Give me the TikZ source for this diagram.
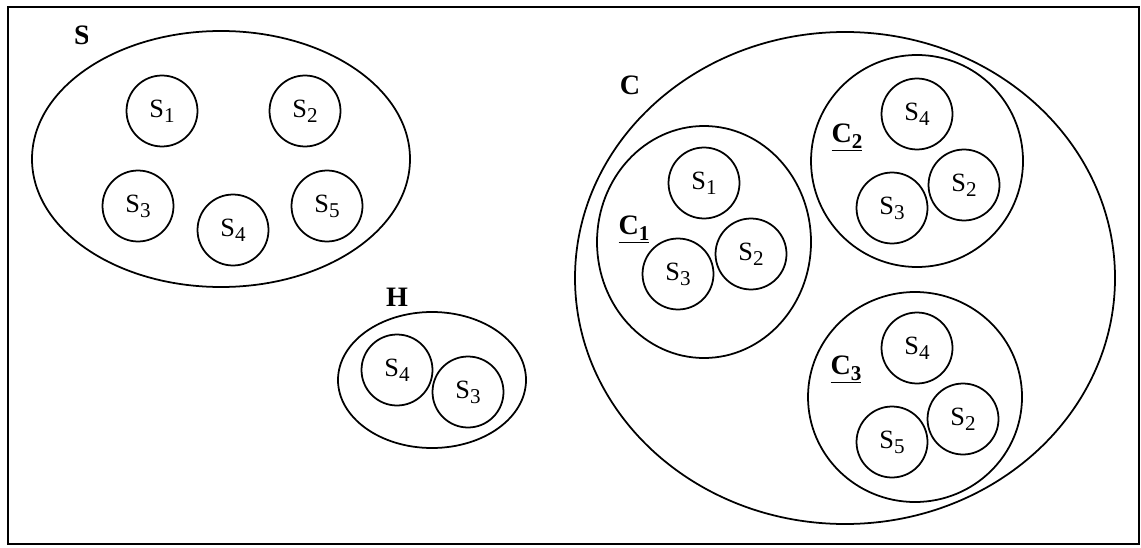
\documentclass[tikz,border=0pt]{standalone}
\usepackage{fontspec}
\setmainfont{Liberation Serif}
% lowered index digit as set in the labels
\newcommand\lowidx[1]{\raisebox{-0.42ex}{\fontsize{12}{13}\selectfont #1}}
\begin{document}
\begin{tikzpicture}[x=0.02cm,y=-0.02cm,line width=1pt,
  elem/.style={circle,draw,minimum size=1.42cm,inner sep=0pt,font=\fontsize{15}{17}\selectfont},
  setlabel/.style={font=\fontsize{16}{18}\selectfont\bfseries,inner sep=0pt}]
\useasboundingbox (0,0) rectangle (1141,547);
% outer frame
\draw (8,7) rectangle (1139,544);

% set S with its five elements (its label is cut off on the right)
\draw (221,159) ellipse [x radius=189, y radius=128];
\begin{scope}
  \clip (60,15) rectangle (87,60);
  \node[setlabel] (lS) at (82,35) {S};
\end{scope}
\node[elem] (a1) at (162,111) {S\lowidx{1}};
\node[elem] (a2) at (305,111) {S\lowidx{2}};
\node[elem] (a3) at (138,206) {S\lowidx{3}};
\node[elem] (a4) at (233,230) {S\lowidx{4}};
\node[elem] (a5) at (327,206) {S\lowidx{5}};

% set H
\draw (432,380) ellipse [x radius=94, y radius=68];
\node[setlabel] (lH) at (397,297) {H};
\node[elem] (h4) at (397,370) {S\lowidx{4}};
\node[elem] (h3) at (468,392) {S\lowidx{3}};

% cover C
\draw (845,278) ellipse [x radius=270, y radius=246];
\node[setlabel] (lC) at (630,85) {C};

% C1
\draw (704,242) ellipse [x radius=107, y radius=116];
\node[setlabel] (lC1) at (634,230) {\underline{C\lowidx{1}}};
\node[elem] (c11) at (704,183) {S\lowidx{1}};
\node[elem] (c13) at (678,274) {S\lowidx{3}};
\node[elem] (c12) at (751,254) {S\lowidx{2}};

% C2
\draw (917,161) ellipse [x radius=106, y radius=106];
\node[setlabel] (lC2) at (847,138) {\underline{C\lowidx{2}}};
\node[elem] (c24) at (917,114) {S\lowidx{4}};
\node[elem] (c23) at (892,208) {S\lowidx{3}};
\node[elem] (c22) at (964,185) {S\lowidx{2}};

% C3
\draw (915,397) ellipse [x radius=107, y radius=105];
\node[setlabel] (lC3) at (846,370) {\underline{C\lowidx{3}}};
\node[elem] (c34) at (917,348) {S\lowidx{4}};
\node[elem] (c32) at (963,419) {S\lowidx{2}};
\node[elem] (c35) at (892,442) {S\lowidx{5}};
\end{tikzpicture}
\end{document}
